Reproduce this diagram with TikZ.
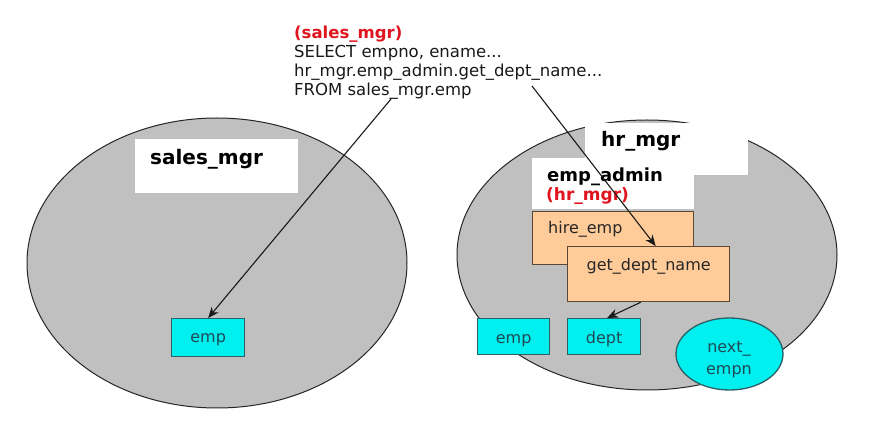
\documentclass[tikz,border=0pt]{standalone}
\usepackage{fontspec}
\setmainfont{DejaVu Sans}
\usetikzlibrary{arrows.meta,shapes.geometric}
\definecolor{ellgray}{HTML}{C0C0C0}
\definecolor{cyanfill}{HTML}{00F0F0}
\definecolor{peach}{HTML}{FFCC99}
\definecolor{cyanline}{HTML}{2F5F66}
\definecolor{cyantext}{HTML}{1F4A55}
\definecolor{peachline}{HTML}{5A4632}
\definecolor{redtxt}{HTML}{E0141E}
\begin{document}
\begin{tikzpicture}[x=1pt,y=-1pt,
  bigell/.style={ellipse, draw=black!85, line width=1pt, fill=ellgray, inner sep=0pt},
  whitebox/.style={rectangle, fill=white, inner sep=0pt, anchor=north west},
  tablebox/.style={rectangle, draw=cyanline, line width=1.3pt, fill=cyanfill, inner sep=0pt, anchor=north west, font=\fontsize{16}{19}\selectfont, text=cyantext},
  procbox/.style={rectangle, draw=peachline, line width=1.3pt, fill=peach, inner sep=0pt, anchor=north west, font=\fontsize{16}{19}\selectfont, text=black!85},
  seqell/.style={ellipse, draw=cyanline, line width=1.3pt, fill=cyanfill, inner sep=0pt},
  plaintxt/.style={inner sep=0pt, font=\fontsize{16}{19}\selectfont, text=black!85},
  titletxt/.style={anchor=base west, inner sep=0pt, font=\bfseries\fontsize{20}{24}\selectfont},
  codeline/.style={anchor=base west, inner sep=0pt, font=\fontsize{16.5}{19}\selectfont, text=black!90},
  arr/.style={-{Stealth[length=11pt,width=9pt]}, line width=1.1pt, black!90}
]
\useasboundingbox (0,0) rectangle (876,438);

% schemas
\node[bigell, minimum width=380pt, minimum height=290pt] (salesell) at (217,263) {};
\node[bigell, minimum width=380pt, minimum height=270pt] (hrell) at (647,255) {};

% white title boxes
\node[whitebox, minimum width=163pt, minimum height=54pt] (salesbox) at (135,139) {};
\node[whitebox, minimum width=163pt, minimum height=52pt] (hrbox) at (585,123) {};
\node[whitebox, minimum width=162pt, minimum height=51pt] (adminbox) at (532,158) {};

\node[titletxt] (salestitle) at (150,165) {sales\_mgr};
\node[titletxt] (hrtitle) at (601,147) {hr\_mgr};
\node[titletxt, font=\bfseries\fontsize{18}{22}\selectfont] (admintitle) at (547,182) {emp\_admin};
\node[titletxt, font=\bfseries\fontsize{17}{20}\selectfont, text=redtxt] (adminowner) at (546,201) {(hr\_mgr)};

% package procedures
\node[procbox, minimum width=161pt, minimum height=53pt] (hire) at (532,211) {};
\node[plaintxt, anchor=base west] (hiretxt) at (548,234) {hire\_emp};
\node[procbox, minimum width=162pt, minimum height=55pt, text height=0pt, text depth=7pt] (gdn) at (567,246) {get\_dept\_name};

% tables
\node[tablebox, minimum width=73pt, minimum height=38pt, text height=9pt, text depth=0pt] (emp1) at (171,318) {emp};
\node[tablebox, minimum width=72pt, minimum height=36pt, text height=14pt, text depth=0pt] (emp2) at (477,318) {emp};
\node[tablebox, minimum width=73pt, minimum height=36pt, text height=13pt, text depth=0pt] (dept) at (567,318) {dept};

% sequence
\node[seqell, minimum width=107pt, minimum height=72pt] (nextemp) at (729.5,354) {};
\node[plaintxt, anchor=base, text=cyantext] (nexttxta) at (729,353) {next\_};
\node[plaintxt, anchor=base, text=cyantext] (nexttxtb) at (729,374) {empn};

% code text
\node[codeline, font=\bfseries\fontsize{16.5}{19}\selectfont, text=redtxt] (codeowner) at (294,38.5) {(sales\_mgr)};
\node[codeline] (code1) at (294,57.5) {SELECT empno, ename...};
\node[codeline] (code2) at (294,76.5) {hr\_mgr.emp\_admin.get\_dept\_name...};
\node[codeline] (code3) at (294,95.5) {FROM sales\_mgr.emp};

% connectors
\coordinate (a1) at (391,99);
\coordinate (a2) at (532,86);
\draw[arr] (a1) -- (emp1.north);
\draw[arr] (a2) -- ([xshift=7pt]gdn.north);
\draw[arr] ([xshift=-8pt]gdn.south) -- ([xshift=3pt]dept.north);
\end{tikzpicture}
\end{document}
